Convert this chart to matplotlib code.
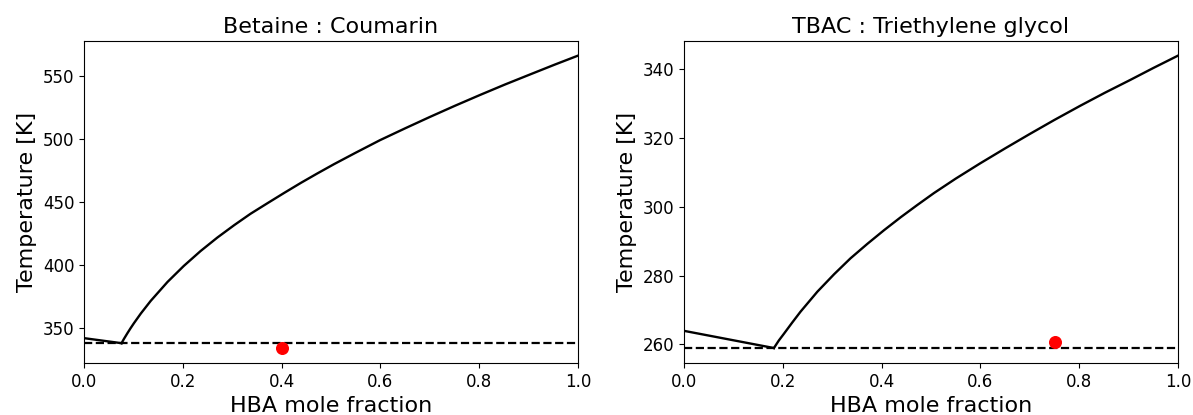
import matplotlib
matplotlib.use("Agg")
import matplotlib.pyplot as plt

# ---- Data ----
titles = ["Betaine : Coumarin", "TBAC : Triethylene glycol"]

# Left panel: Betaine : Coumarin
left_x_hbd = [0.0, 0.076]
left_T_hbd = [342.3, 338.3]
left_x_hba = [0.076, 0.081, 0.088, 0.094, 0.101, 0.115, 0.135, 0.169, 0.202,
              0.236, 0.270, 0.304, 0.337, 0.371, 0.405, 0.439, 0.472, 0.506,
              0.549, 0.599, 0.650, 0.700, 0.751, 0.802, 0.852, 0.903, 0.953, 1.0]
left_T_hba = [338.3, 341.8, 346.3, 350.0, 354.1, 361.8, 371.8, 386.8, 399.5,
              411.3, 422.0, 431.8, 440.8, 449.1, 457.3, 465.3, 472.7, 480.1,
              489.0, 499.1, 508.5, 517.5, 526.4, 535.0, 543.2, 551.2, 559.0, 566.1]
left_eutectic_T = 338.3
left_exp_x = [0.4]
left_exp_T = [334.2]

# Right panel: TBAC : Triethylene glycol
right_x_hbd = [0.0, 0.182]
right_T_hbd = [263.9, 258.9]
right_x_hba = [0.182, 0.192, 0.202, 0.219, 0.236, 0.253, 0.270, 0.304, 0.337,
               0.371, 0.405, 0.439, 0.472, 0.506, 0.550, 0.599, 0.650, 0.700,
               0.750, 0.802, 0.852, 0.903, 0.950, 1.0]
right_T_hba = [258.9, 261.1, 263.0, 266.3, 269.5, 272.4, 275.3, 280.4, 285.0,
               289.2, 293.2, 297.0, 300.5, 304.0, 308.2, 312.6, 317.0, 321.2,
               325.3, 329.4, 333.2, 336.9, 340.4, 344.0]
right_eutectic_T = 258.8
right_exp_x = [0.75]
right_exp_T = [260.7]

panels = [
    (left_x_hbd, left_T_hbd, left_x_hba, left_T_hba, left_eutectic_T, left_exp_x, left_exp_T),
    (right_x_hbd, right_T_hbd, right_x_hba, right_T_hba, right_eutectic_T, right_exp_x, right_exp_T),
]

W, H = 1193, 415
fig, axes = plt.subplots(1, 2, figsize=(W / 100, H / 100), dpi=100)
fig.subplots_adjust(left=84 / W, right=1178 / W, top=1 - 41 / H,
                    bottom=1 - 363 / H, wspace=106 / 494)

for ax, title, (xa, Ta, xb, Tb, Te, xe, Tex) in zip(axes, titles, panels):
    ax.plot(xa, Ta, color="black", lw=1.7, solid_joinstyle="round")
    ax.plot(xb, Tb, color="black", lw=1.7, solid_joinstyle="round")
    ax.plot([0, 1], [Te, Te], color="black", lw=1.6, ls="--")
    ax.scatter(xe, Tex, color="red", s=70, zorder=3)
    ax.set_xlim(0, 1)
    ax.set_title(title, fontsize=16)
    ax.set_xlabel("HBA mole fraction", fontsize=16)
    ax.set_ylabel("Temperature [K]", fontsize=16)
    ax.tick_params(labelsize=12)

axes[0].set_yticks([350, 400, 450, 500, 550])
axes[1].set_yticks([260, 280, 300, 320, 340])

fig.savefig("out.png", dpi=100)
